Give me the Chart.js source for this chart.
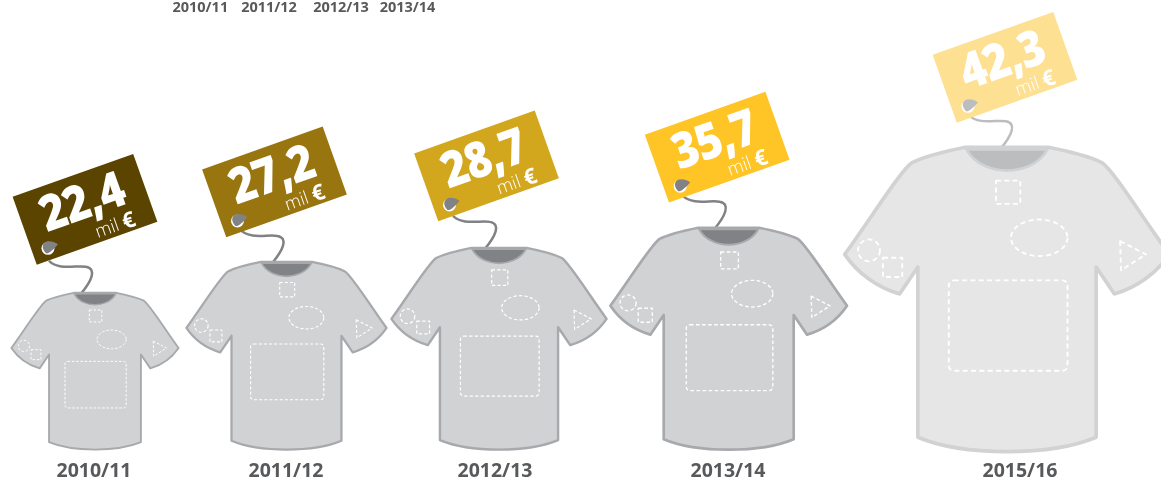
<!DOCTYPE html>
<html lang="pt">
<head>
    <meta charset="UTF-8">
    <title>Preço t-shirts</title>
    <script src="https://cdn.jsdelivr.net/npm/chart.js"></script>
    <style>
        body{
            margin: 0;
            background: #fff;
        }
        #grafico{
            display: block;
        }
    </style>
</head>
<body>
    <canvas id="grafico" width="1161" height="481"></canvas>

    <script>
        const categorias = ['2010/11','2011/12','2012/13','2013/14','2015/16']
        const valores = [22.4,27.2,28.7,35.7,42.3]
        const etiquetasTopo = ['2010/11','2011/12','2012/13','2013/14']
        const unidade = 'mil'

        // slots on the x axis grow with the size of the neighbouring shirts
        const slots = valores.map((v,i)=>valores.slice(0,i).reduce((s,w,j)=>s+(w+valores[j+1])/2,0))

        const FONTE = '"Open Sans", sans-serif'
        const ESCALA_X = 1161/154.8

        // how each shirt sits on its point (the reference is not strictly proportional)
        const estilo = {
            ajuste: [0.973,0.959,0.977,0.864,1],
            descida: [1,1,1,1,3],
            desvioX: [1,6.5,9.4,-2.4,-16.6],
            desvioLabel: [0,6,5.4,-3.1,-3.6],
            desvioTag: [-10,-12,-12.5,-11.5,-2],
            desvioFio: [0,0,0,0,8],
            alturaTag: [-83.5,-80,-82,-80.5,-80],
            topoX: [200.3,269,341,407.5],
            tag: ['#5a4400','#98750f','#d2a61d','#ffc425','#fee093'],
            corpo: ['#d1d2d4','#d1d2d4','#d1d2d4','#d1d2d4','#e6e6e7'],
            linha: ['#a7a9ac','#a7a9ac','#a7a9ac','#a7a9ac','#d1d2d4'],
            gola: ['#808285','#808285','#808285','#808285','#bcbdbf']
        }

        const desenhaCamisola = (ctx,cx,topo,altura,i)=>{
            const k = altura/915
            ctx.save()
            ctx.translate(cx,topo)
            ctx.scale(k,k)
            ctx.lineJoin = 'round'

            ctx.beginPath()
            ctx.moveTo(-125,0)
            ctx.bezierCurveTo(-185,12,-245,26,-285,46)
            ctx.bezierCurveTo(-320,70,-400,200,-488,322)
            ctx.bezierCurveTo(-450,378,-390,422,-323,441)
            ctx.lineTo(-268,360)
            ctx.lineTo(-268,872)
            ctx.bezierCurveTo(-190,905,-90,915,0,915)
            ctx.bezierCurveTo(90,915,190,905,268,872)
            ctx.lineTo(268,360)
            ctx.lineTo(323,441)
            ctx.bezierCurveTo(390,422,450,378,488,322)
            ctx.bezierCurveTo(400,200,320,70,285,46)
            ctx.bezierCurveTo(245,26,185,12,125,0)
            ctx.closePath()
            ctx.fillStyle = estilo.corpo[i]
            ctx.fill()
            ctx.strokeStyle = estilo.linha[i]
            ctx.lineWidth = 11
            ctx.stroke()

            // gola
            ctx.beginPath()
            ctx.moveTo(-122,6)
            ctx.bezierCurveTo(-95,55,-40,70,0,70)
            ctx.bezierCurveTo(40,70,95,55,122,6)
            ctx.closePath()
            ctx.fillStyle = estilo.gola[i]
            ctx.fill()
            ctx.lineWidth = 8
            ctx.stroke()

            // zonas de estampagem
            ctx.strokeStyle = '#fff'
            ctx.lineWidth = 5.5
            ctx.setLineDash([15,10])
            ctx.beginPath()
            ctx.rect(-33,100,73,70)
            ctx.stroke()
            ctx.beginPath()
            ctx.ellipse(97,272,85,55,0,0,Math.PI*2)
            ctx.stroke()
            ctx.beginPath()
            ctx.roundRect(-175,400,357,272,15)
            ctx.stroke()
            ctx.beginPath()
            ctx.arc(-415,310,33,0,Math.PI*2)
            ctx.stroke()
            ctx.beginPath()
            ctx.rect(-373,332,58,58)
            ctx.stroke()
            ctx.beginPath()
            ctx.moveTo(340,282)
            ctx.lineTo(418,322)
            ctx.lineTo(343,370)
            ctx.closePath()
            ctx.stroke()
            ctx.restore()
        }

        const desenhaFio = (ctx,cx,topo,i)=>{
            ctx.save()
            ctx.translate(cx+estilo.desvioFio[i],topo)
            ctx.beginPath()
            ctx.moveTo(-46,-32)
            ctx.bezierCurveTo(-36,-22,-18,-28,-9,-26)
            ctx.bezierCurveTo(2,-24,-3,-12,-15,2)
            ctx.strokeStyle = estilo.gola[i]
            ctx.lineWidth = 2.5
            ctx.stroke()
            ctx.restore()
        }

        const desenhaEtiqueta = (ctx,cx,cy,i)=>{
            const ang = -19.6*Math.PI/180
            ctx.save()
            ctx.translate(cx,cy)
            ctx.save()
            ctx.rotate(ang)
            ctx.fillStyle = estilo.tag[i]
            ctx.fillRect(-64,-36,128,72)
            ctx.restore()

            // furo
            ctx.save()
            ctx.translate(-35,38)
            ctx.beginPath()
            ctx.arc(-2,1,6.5,0,Math.PI*2)
            ctx.fillStyle = '#fff'
            ctx.fill()
            ctx.beginPath()
            ctx.moveTo(8,-3)
            ctx.bezierCurveTo(4,-6,-2,-7,-5,-5)
            ctx.bezierCurveTo(-9,-2,-7,3,-4,6)
            ctx.bezierCurveTo(-2,7,3,3,8,-3)
            ctx.fillStyle = estilo.gola[i]
            ctx.fill()
            ctx.restore()

            // valor
            ctx.fillStyle = '#fff'
            ctx.textBaseline = 'middle'
            ctx.save()
            ctx.translate(-2,-5)
            ctx.rotate(ang)
            ctx.scale(0.95,1.08)
            ctx.textAlign = 'center'
            ctx.font = '800 46px '+FONTE
            ctx.letterSpacing = '-1px'
            ctx.fillText(valores[i].toFixed(1).replace('.',','),0,0)
            ctx.restore()

            ctx.save()
            ctx.translate(50,10)
            ctx.rotate(ang)
            ctx.textAlign = 'right'
            ctx.font = '700 22px '+FONTE
            ctx.fillText('€',0,0)
            const larg = ctx.measureText('€').width
            ctx.font = '300 18px '+FONTE
            ctx.fillText(unidade+' ',-larg,0)
            ctx.restore()
            ctx.restore()
        }

        const camisolas = {
            id: 'camisolas',
            afterDatasetsDraw(chart){
                const ctx = chart.ctx
                const base = chart.scales.y.getPixelForValue(0)
                chart.getDatasetMeta(0).data.forEach((p,i)=>{
                    const altura = (base-p.y)*estilo.ajuste[i]
                    const topo = base+estilo.descida[i]-altura
                    const cx = p.x+estilo.desvioX[i]
                    desenhaFio(ctx,cx,topo,i)
                    desenhaCamisola(ctx,cx,topo,altura,i)
                    desenhaEtiqueta(ctx,cx+estilo.desvioTag[i],topo+estilo.alturaTag[i],i)
                })

                // linha solta no topo do original
                ctx.save()
                ctx.font = '700 14.5px '+FONTE
                ctx.fillStyle = '#58595b'
                ctx.textAlign = 'center'
                ctx.textBaseline = 'middle'
                etiquetasTopo.forEach((t,i)=>ctx.fillText(t,estilo.topoX[i],8))
                ctx.restore()
            }
        }

        let grafico = new Chart(document.getElementById('grafico'),{
            type: 'scatter',
            data: {
                datasets: [{
                    label: 'mil €',
                    data: valores.map((v,i)=>({x:slots[i],y:v})),
                    pointRadius: 0,
                    showLine: false
                }]
            },
            options: {
                responsive: false,
                animation: false,
                layout: { padding: { bottom: -5 } },
                plugins: {
                    legend: { display: false },
                    tooltip: { enabled: false }
                },
                scales: {
                    x: {
                        type: 'linear',
                        min: -12.53,
                        max: 142.27,
                        grid: { display: false },
                        border: { display: false },
                        afterBuildTicks: (eixo)=>{
                            eixo.ticks = slots.map((s,i)=>({value:s+estilo.desvioLabel[i]/ESCALA_X}))
                        },
                        ticks: {
                            autoSkip: false,
                            maxRotation: 0,
                            padding: 3,
                            color: '#58595b',
                            font: { family: FONTE, size: 19.5, weight: '700' },
                            callback: (v,i)=>categorias[i]
                        }
                    },
                    y: {
                        display: false,
                        min: 0,
                        max: 62.36
                    }
                }
            },
            plugins: [camisolas]
        })
    </script>
</body>
</html>
